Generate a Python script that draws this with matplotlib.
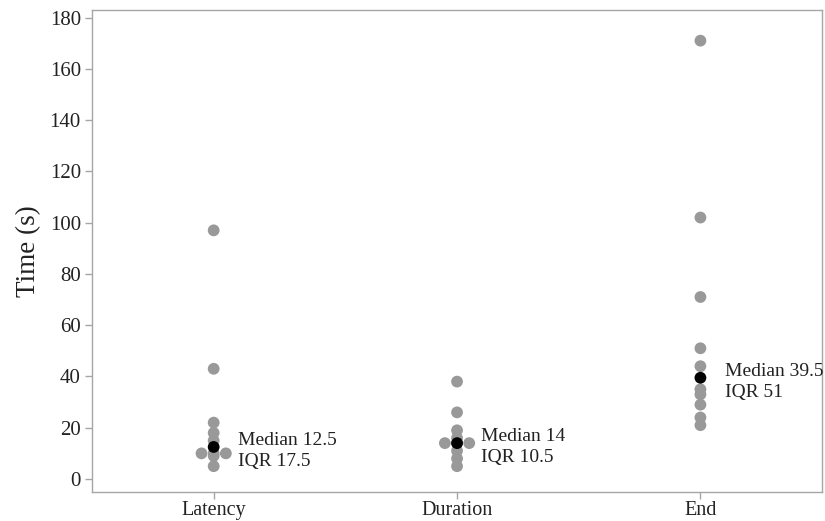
import numpy as np
import matplotlib
matplotlib.use('Agg')
import matplotlib.pyplot as plt

plt.rcParams['font.family'] = ['Liberation Serif', 'DejaVu Serif']

# data (seconds)
categories = ['Latency', 'Duration', 'End']
latency = [5, 9, 10, 10, 10, 15, 18, 22, 43, 97]
duration = [5, 8, 11, 14, 14, 14, 16, 19, 26, 38]
end = [21, 24, 29, 33, 35, 44, 51, 71, 102, 171]
series = [latency, duration, end]

yticks = [0, 20, 40, 60, 80, 100, 120, 140, 160, 180]

frame_col = '#a6a6a6'
point_col = '#999999'
text_col = '#222222'

fig = plt.figure(figsize=(8.25, 5.21), dpi=100)
ax = fig.add_axes([0.1115, 0.056, 0.885, 0.925])

step = 0.05  # horizontal spread for tied values
for i, vals in enumerate(series):
    x0 = i + 1
    vals = np.array(vals, dtype=float)
    xs = np.full(len(vals), float(x0))
    for v in np.unique(vals):
        idx = np.where(vals == v)[0]
        n = len(idx)
        xs[idx] = x0 + (np.arange(n) - (n - 1) / 2.0) * step
    ax.scatter(xs, vals, s=72, color=point_col, edgecolors='none', zorder=2)

    med = np.median(vals)
    q1, q3 = np.quantile(vals, [0.25, 0.75], method='weibull')
    ax.scatter([x0], [med], s=72, color='black', edgecolors='none', zorder=3)
    ax.text(x0 + 0.1, med - 1.5, 'Median %g\nIQR %g' % (med, q3 - q1),
            ha='left', va='center', fontsize=14, color=text_col,
            linespacing=1.3)

ax.set_xlim(0.5, 3.5)
ax.set_ylim(-5, 183)
ax.set_xticks([1, 2, 3])
ax.set_xticklabels(categories)
ax.set_yticks(yticks)
ax.set_ylabel('Time (s)', fontsize=19.5, color=text_col, labelpad=6)

for sp in ax.spines.values():
    sp.set_color(frame_col)
    sp.set_linewidth(1.0)
ax.tick_params(axis='both', colors=frame_col, labelcolor=text_col,
               labelsize=15, length=5, width=1.0, direction='out', pad=3)
ax.tick_params(axis='x', labelsize=14.5, pad=1.5)

fig.savefig('out.png', dpi=100)
